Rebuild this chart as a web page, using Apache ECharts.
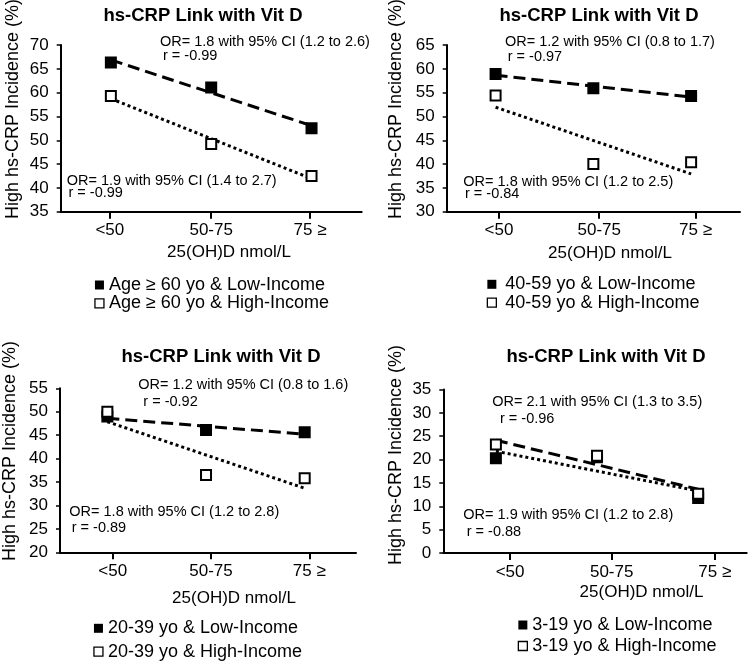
<!DOCTYPE html>
<html>
<head>
<meta charset="utf-8">
<script src="https://cdn.jsdelivr.net/npm/echarts@6/dist/echarts.min.js"></script>
<style>html,body{margin:0;padding:0;background:#fff;}#c{width:749px;height:665px;}</style>
</head>
<body>
<div id="c"></div>
<script>
// ---- data ----
const categories = ['<50', '50-75', '75 \u2265'];
const titleText = 'hs-CRP Link with Vit D';
const yAxisTitle = 'High hs-CRP Incidence (%)';
const xAxisTitle = '25(OH)D nmol/L';

const p1Names = ['Age \u2265 60 yo & Low-Income', 'Age \u2265 60 yo & High-Income'];
const p1Low = [66.3, 61.1, 52.5];
const p1High = [59.3, 49.2, 42.5];
const p1Range = [35, 70];
const p1Notes = ['OR= 1.8 with 95% CI (1.2 to 2.6)', 'r = -0.99', 'OR= 1.9 with 95% CI (1.4 to 2.7)', 'r = -0.99'];

const p2Names = ['40-59 yo & Low-Income', '40-59 yo & High-Income'];
const p2Low = [58.9, 55.9, 54.3];
const p2High = [54.4, 40.0, 40.4];
const p2Range = [30, 65];
const p2Notes = ['OR= 1.2 with 95% CI (0.8 to 1.7)', 'r = -0.97', 'OR= 1.8 with 95% CI (1.2 to 2.5)', 'r = -0.84'];

const p3Names = ['20-39 yo & Low-Income', '20-39 yo & High-Income'];
const p3Low = [49.0, 46.1, 45.6];
const p3High = [50.0, 36.5, 35.8];
const p3Range = [20, 55];
const p3Notes = ['OR= 1.2 with 95% CI (0.8 to 1.6)', 'r = -0.92', 'OR= 1.8 with 95% CI (1.2 to 2.8)', 'r = -0.89'];

const p4Names = ['3-19 yo & Low-Income', '3-19 yo & High-Income'];
const p4Low = [20.3, 20.5, 11.8];
const p4High = [23.2, 20.8, 12.7];
const p4Range = [0, 35];
const p4Notes = ['OR= 2.1 with 95% CI (1.3 to 3.5)', 'r = -0.96', 'OR= 1.9 with 95% CI (1.2 to 2.8)', 'r = -0.88'];

// ---- layout ----
const FONT = '"Liberation Sans", Arial, sans-serif';
const DASH = [12, 6];
const DOT = [3, 3];
const panels = [
  { names: p1Names, low: p1Low, high: p1High, range: p1Range, notes: p1Notes,
    grid: { left: 60.7, top: 45, width: 301, height: 166.7 }, xr: [0.5, 3.5], ticks: [0.99, 2, 2.985],
    lowDash: DASH, highDash: DOT,
    title: [203, 16], yName: [13.5, 109], xName: [229, 252],
    notePos: [[160, 41.5], [163, 56], [66.7, 181], [68.5, 193]],
    legend: { left: 94.3, top: 275.8, lh: 18.4, pad: 0 } },
  { names: p2Names, low: p2Low, high: p2High, range: p2Range, notes: p2Notes,
    grid: { left: 446.7, top: 45, width: 293.3, height: 166.7 }, xr: [0.5, 3.5], ticks: [1.035, 2.06, 3.045],
    lowDash: DASH, highDash: DOT,
    title: [599, 16], yName: [396, 109], xName: [610, 253],
    notePos: [[505, 41.7], [507.7, 56.7], [463.3, 181.7], [465, 194]],
    legend: { left: 486.7, top: 275.1, lh: 18.4, pad: 4 } },
  { names: p3Names, low: p3Low, high: p3High, range: p3Range, notes: p3Notes,
    grid: { left: 60, top: 388.3, width: 296, height: 164 }, xr: [0.52, 3.52], ticks: [1.054, 2.05, 3.047],
    lowDash: DASH, highDash: DOT,
    title: [221, 356.7], yName: [10, 451], xName: [234, 598],
    notePos: [[138.3, 385], [143.3, 401.7], [69.3, 511.7], [71.7, 528.3]],
    legend: { left: 93.3, top: 616.6, lh: 23.4, pad: 0 } },
  { names: p4Names, low: p4Low, high: p4High, range: p4Range, notes: p4Notes,
    grid: { left: 443.3, top: 389.5, width: 303.4, height: 163.5 }, xr: [0.48, 3.48], ticks: [1.14, 2.145, 3.165],
    lowDash: DOT, highDash: DASH,
    title: [606, 356.7], yName: [396.5, 455], xName: [641.5, 592],
    notePos: [[492.3, 401.7], [500, 419.3], [463.3, 515], [466.7, 531.7]],
    legend: { left: 517.7, top: 614.5, lh: 21, pad: 0 } }
];

function fit(vals) {
  const n = vals.length;
  const xs = vals.map((_, i) => i + 1);
  const mx = xs.reduce((a, b) => a + b, 0) / n;
  const my = vals.reduce((a, b) => a + b, 0) / n;
  let sxy = 0, sxx = 0;
  for (let i = 0; i < n; i++) { sxy += (xs[i] - mx) * (vals[i] - my); sxx += (xs[i] - mx) ** 2; }
  const b = sxy / sxx, a = my - b * mx;
  return [[xs[0], a + b * xs[0]], [xs[n - 1], a + b * xs[n - 1]]];
}

const grids = [], xAxes = [], yAxes = [], series = [], legends = [], graphics = [];
panels.forEach((p, i) => {
  grids.push(p.grid);
  const ticks = p.ticks;
  const labelFor = (v) => {
    let best = 0, bd = Infinity;
    ticks.forEach((t, k) => { const d = Math.abs(t - v); if (d < bd) { bd = d; best = k; } });
    return categories[best];
  };
  xAxes.push({
    type: 'value', gridIndex: i, min: p.xr[0], max: p.xr[1],
    axisLine: { show: true, onZero: false, lineStyle: { color: '#000', width: 2 } },
    axisTick: { show: true, customValues: ticks, length: 7, lineStyle: { color: '#000', width: 2 } },
    axisLabel: { show: true, customValues: ticks, formatter: labelFor, showMinLabel: true, showMaxLabel: true,
      fontSize: 17, fontFamily: FONT, color: '#000', margin: 10.5 },
    splitLine: { show: false }
  });
  yAxes.push({
    type: 'value', gridIndex: i, min: p.range[0], max: p.range[1], interval: 5,
    axisLine: { show: true, onZero: false, lineStyle: { color: '#000', width: 2 } },
    axisTick: { show: true, length: 4, lineStyle: { color: '#000', width: 1.5 } },
    axisLabel: { fontSize: 17, fontFamily: FONT, color: '#000', margin: 12 },
    splitLine: { show: false }
  });
  series.push({
    type: 'line', xAxisIndex: i, yAxisIndex: i, data: fit(p.low), symbol: 'none', silent: true, z: 2,
    lineStyle: { color: '#000', width: p.lowDash === DOT ? 3 : 3, type: p.lowDash, opacity: 1 }
  });
  series.push({
    type: 'line', xAxisIndex: i, yAxisIndex: i, data: fit(p.high), symbol: 'none', silent: true, z: 2,
    lineStyle: { color: '#000', width: 3, type: p.highDash, opacity: 1 }
  });
  series.push({
    name: p.names[0], type: 'scatter', xAxisIndex: i, yAxisIndex: i, z: 3,
    data: p.low.map((v, k) => [k + 1, v]), symbol: 'rect', symbolSize: 10,
    itemStyle: { color: '#000', borderColor: '#000', borderWidth: 2, opacity: 1 }
  });
  series.push({
    name: p.names[1], type: 'scatter', xAxisIndex: i, yAxisIndex: i, z: 4,
    data: p.high.map((v, k) => [k + 1, v]), symbol: 'rect', symbolSize: 10,
    itemStyle: { color: '#fff', borderColor: '#000', borderWidth: 2, opacity: 1 }
  });
  legends.push({
    orient: 'vertical', left: p.legend.left, top: p.legend.top, padding: 0, itemGap: 0,
    itemWidth: 9, itemHeight: 9, icon: 'rect', selectedMode: false,
    textStyle: { fontSize: 18, fontFamily: FONT, color: '#000', lineHeight: p.legend.lh, padding: [0, 0, 0, p.legend.pad] },
    data: [
      { name: p.names[0], itemStyle: { color: '#000', borderWidth: 0, opacity: 1 } },
      { name: p.names[1], itemStyle: { color: '#fff', borderColor: '#000', borderWidth: 1.3, opacity: 1 } }
    ]
  });
  graphics.push({ type: 'text', x: p.title[0], y: p.title[1],
    style: { text: titleText, fontSize: 18.5, fontWeight: 'bold', fontFamily: FONT, fill: '#000', align: 'center', verticalAlign: 'middle' } });
  graphics.push({ type: 'text', x: p.yName[0], y: p.yName[1], rotation: Math.PI / 2,
    style: { text: yAxisTitle, fontSize: 18, fontFamily: FONT, fill: '#000', align: 'center', verticalAlign: 'middle' } });
  graphics.push({ type: 'text', x: p.xName[0], y: p.xName[1],
    style: { text: xAxisTitle, fontSize: 17, fontFamily: FONT, fill: '#000', align: 'center', verticalAlign: 'middle' } });
  p.notes.forEach((t, k) => {
    graphics.push({ type: 'text', x: p.notePos[k][0], y: p.notePos[k][1], z: 10,
      style: { text: t, fontSize: 14.5, fontFamily: FONT, fill: '#000', align: 'left', verticalAlign: 'middle' } });
  });
});

const chart = echarts.init(document.getElementById('c'), null, { renderer: 'canvas' });
chart.setOption({
  backgroundColor: '#fff',
  animation: false,
  grid: grids,
  xAxis: xAxes,
  yAxis: yAxes,
  legend: legends,
  series: series,
  graphic: graphics
});
</script>
</body>
</html>
